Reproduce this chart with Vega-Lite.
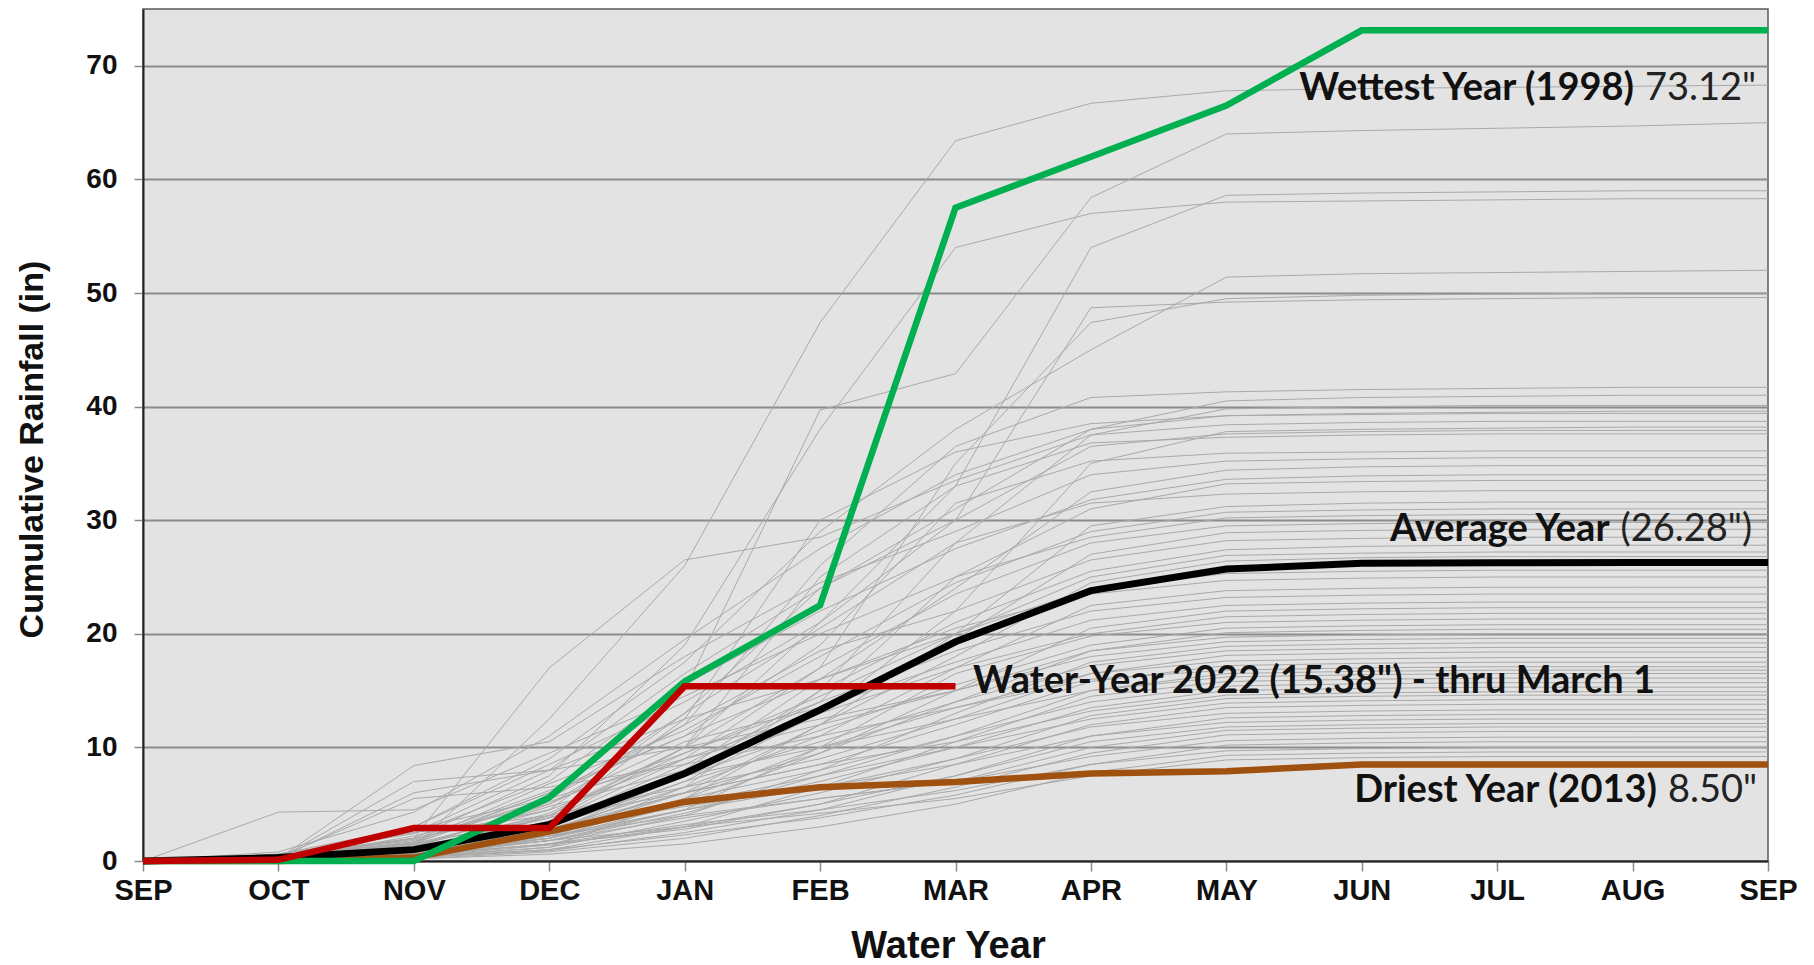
{
"$schema":"https://vega.github.io/schema/vega-lite/v6.json",
"width":1625,"height":852,"autosize":"none",
"padding":{"left":143,"top":9,"right":46,"bottom":104},
"background":"white",
"config":{"view":{"fill":"#e3e3e3","stroke":"#5a5a5a","strokeWidth":1.5}},
"datasets":{
"gray":[
{"s":"g01","m":0,"v":0},{"s":"g01","m":1,"v":0.3},{"s":"g01","m":2,"v":1.2},{"s":"g01","m":3,"v":12.5},{"s":"g01","m":4,"v":26.0},{"s":"g01","m":5,"v":47.4},{"s":"g01","m":6,"v":63.4},{"s":"g01","m":7,"v":66.7},{"s":"g01","m":8,"v":67.8},{"s":"g01","m":9,"v":68.0},{"s":"g01","m":10,"v":68.1},{"s":"g01","m":11,"v":68.2},{"s":"g01","m":12,"v":68.3},
{"s":"g02","m":0,"v":0},{"s":"g02","m":1,"v":0.3},{"s":"g02","m":2,"v":1.5},{"s":"g02","m":3,"v":6.0},{"s":"g02","m":4,"v":15.0},{"s":"g02","m":5,"v":39.7},{"s":"g02","m":6,"v":42.9},{"s":"g02","m":7,"v":58.4},{"s":"g02","m":8,"v":64.0},{"s":"g02","m":9,"v":64.3},{"s":"g02","m":10,"v":64.5},{"s":"g02","m":11,"v":64.7},{"s":"g02","m":12,"v":65.0},
{"s":"g03","m":0,"v":0},{"s":"g03","m":1,"v":0.2},{"s":"g03","m":2,"v":2.0},{"s":"g03","m":3,"v":7.5},{"s":"g03","m":4,"v":19.0},{"s":"g03","m":5,"v":38.0},{"s":"g03","m":6,"v":54.0},{"s":"g03","m":7,"v":57.0},{"s":"g03","m":8,"v":58.0},{"s":"g03","m":9,"v":58.1},{"s":"g03","m":10,"v":58.2},{"s":"g03","m":11,"v":58.3},{"s":"g03","m":12,"v":58.3},
{"s":"g04","m":0,"v":0},{"s":"g04","m":1,"v":0.1},{"s":"g04","m":2,"v":1.0},{"s":"g04","m":3,"v":4.2},{"s":"g04","m":4,"v":10.0},{"s":"g04","m":5,"v":21.0},{"s":"g04","m":6,"v":33.0},{"s":"g04","m":7,"v":54.0},{"s":"g04","m":8,"v":58.6},{"s":"g04","m":9,"v":58.8},{"s":"g04","m":10,"v":58.9},{"s":"g04","m":11,"v":59.0},{"s":"g04","m":12,"v":59.0},
{"s":"g05","m":0,"v":0},{"s":"g05","m":1,"v":0.4},{"s":"g05","m":2,"v":1.8},{"s":"g05","m":3,"v":5.5},{"s":"g05","m":4,"v":13.0},{"s":"g05","m":5,"v":24.0},{"s":"g05","m":6,"v":30.0},{"s":"g05","m":7,"v":48.7},{"s":"g05","m":8,"v":49.2},{"s":"g05","m":9,"v":49.4},{"s":"g05","m":10,"v":49.5},{"s":"g05","m":11,"v":49.6},{"s":"g05","m":12,"v":49.6},
{"s":"g06","m":0,"v":0},{"s":"g06","m":1,"v":0.2},{"s":"g06","m":2,"v":0.8},{"s":"g06","m":3,"v":3.5},{"s":"g06","m":4,"v":9.0},{"s":"g06","m":5,"v":17.0},{"s":"g06","m":6,"v":35.0},{"s":"g06","m":7,"v":47.4},{"s":"g06","m":8,"v":49.5},{"s":"g06","m":9,"v":49.8},{"s":"g06","m":10,"v":49.9},{"s":"g06","m":11,"v":50.0},{"s":"g06","m":12,"v":50.0},
{"s":"g07","m":0,"v":0},{"s":"g07","m":1,"v":0.6},{"s":"g07","m":2,"v":3.0},{"s":"g07","m":3,"v":9.0},{"s":"g07","m":4,"v":17.5},{"s":"g07","m":5,"v":29.0},{"s":"g07","m":6,"v":38.0},{"s":"g07","m":7,"v":45.0},{"s":"g07","m":8,"v":51.4},{"s":"g07","m":9,"v":51.7},{"s":"g07","m":10,"v":51.8},{"s":"g07","m":11,"v":51.9},{"s":"g07","m":12,"v":52.0},
{"s":"g08","m":0,"v":0},{"s":"g08","m":1,"v":0.3},{"s":"g08","m":2,"v":1.2},{"s":"g08","m":3,"v":5.0},{"s":"g08","m":4,"v":12.0},{"s":"g08","m":5,"v":26.0},{"s":"g08","m":6,"v":36.5},{"s":"g08","m":7,"v":40.8},{"s":"g08","m":8,"v":41.3},{"s":"g08","m":9,"v":41.5},{"s":"g08","m":10,"v":41.6},{"s":"g08","m":11,"v":41.7},{"s":"g08","m":12,"v":41.7},
{"s":"g09","m":0,"v":0},{"s":"g09","m":1,"v":0.2},{"s":"g09","m":2,"v":2.5},{"s":"g09","m":3,"v":8.0},{"s":"g09","m":4,"v":16.5},{"s":"g09","m":5,"v":24.0},{"s":"g09","m":6,"v":31.0},{"s":"g09","m":7,"v":38.0},{"s":"g09","m":8,"v":40.5},{"s":"g09","m":9,"v":40.8},{"s":"g09","m":10,"v":40.9},{"s":"g09","m":11,"v":41.0},{"s":"g09","m":12,"v":41.0},
{"s":"g10","m":0,"v":0},{"s":"g10","m":1,"v":0.1},{"s":"g10","m":2,"v":0.5},{"s":"g10","m":3,"v":2.0},{"s":"g10","m":4,"v":6.5},{"s":"g10","m":5,"v":15.0},{"s":"g10","m":6,"v":28.0},{"s":"g10","m":7,"v":37.5},{"s":"g10","m":8,"v":39.8},{"s":"g10","m":9,"v":40.0},{"s":"g10","m":10,"v":40.1},{"s":"g10","m":11,"v":40.1},{"s":"g10","m":12,"v":40.1},
{"s":"g11","m":0,"v":0},{"s":"g11","m":1,"v":0.8},{"s":"g11","m":2,"v":4.3},{"s":"g11","m":3,"v":11.0},{"s":"g11","m":4,"v":19.5},{"s":"g11","m":5,"v":27.5},{"s":"g11","m":6,"v":34.0},{"s":"g11","m":7,"v":38.0},{"s":"g11","m":8,"v":39.2},{"s":"g11","m":9,"v":39.4},{"s":"g11","m":10,"v":39.5},{"s":"g11","m":11,"v":39.6},{"s":"g11","m":12,"v":39.6},
{"s":"g12","m":0,"v":0},{"s":"g12","m":1,"v":0.3},{"s":"g12","m":2,"v":1.0},{"s":"g12","m":3,"v":3.8},{"s":"g12","m":4,"v":12.5},{"s":"g12","m":5,"v":30.0},{"s":"g12","m":6,"v":36.0},{"s":"g12","m":7,"v":38.5},{"s":"g12","m":8,"v":39.2},{"s":"g12","m":9,"v":39.3},{"s":"g12","m":10,"v":39.4},{"s":"g12","m":11,"v":39.4},{"s":"g12","m":12,"v":39.4},
{"s":"g13","m":0,"v":0},{"s":"g13","m":1,"v":0.5},{"s":"g13","m":2,"v":2.0},{"s":"g13","m":3,"v":17.0},{"s":"g13","m":4,"v":26.5},{"s":"g13","m":5,"v":28.5},{"s":"g13","m":6,"v":33.5},{"s":"g13","m":7,"v":37.5},{"s":"g13","m":8,"v":38.4},{"s":"g13","m":9,"v":38.6},{"s":"g13","m":10,"v":38.7},{"s":"g13","m":11,"v":38.7},{"s":"g13","m":12,"v":38.7},
{"s":"g14","m":0,"v":0},{"s":"g14","m":1,"v":0.1},{"s":"g14","m":2,"v":0.8},{"s":"g14","m":3,"v":2.5},{"s":"g14","m":4,"v":7.0},{"s":"g14","m":5,"v":13.0},{"s":"g14","m":6,"v":22.0},{"s":"g14","m":7,"v":35.0},{"s":"g14","m":8,"v":37.8},{"s":"g14","m":9,"v":38.0},{"s":"g14","m":10,"v":38.1},{"s":"g14","m":11,"v":38.2},{"s":"g14","m":12,"v":38.2},
{"s":"g15","m":0,"v":0},{"s":"g15","m":1,"v":0.4},{"s":"g15","m":2,"v":3.0},{"s":"g15","m":3,"v":8.5},{"s":"g15","m":4,"v":14.0},{"s":"g15","m":5,"v":21.0},{"s":"g15","m":6,"v":30.0},{"s":"g15","m":7,"v":36.5},{"s":"g15","m":8,"v":37.6},{"s":"g15","m":9,"v":37.8},{"s":"g15","m":10,"v":37.9},{"s":"g15","m":11,"v":37.9},{"s":"g15","m":12,"v":37.9},
{"s":"g16","m":0,"v":0},{"s":"g16","m":1,"v":0.1},{"s":"g16","m":2,"v":0.6},{"s":"g16","m":3,"v":4.0},{"s":"g16","m":4,"v":10.0},{"s":"g16","m":5,"v":25.0},{"s":"g16","m":6,"v":33.0},{"s":"g16","m":7,"v":36.8},{"s":"g16","m":8,"v":37.3},{"s":"g16","m":9,"v":37.5},{"s":"g16","m":10,"v":37.6},{"s":"g16","m":11,"v":37.6},{"s":"g16","m":12,"v":37.6},
{"s":"g17","m":0,"v":0},{"s":"g17","m":1,"v":0.3},{"s":"g17","m":2,"v":1.7},{"s":"g17","m":3,"v":6.0},{"s":"g17","m":4,"v":11.0},{"s":"g17","m":5,"v":19.0},{"s":"g17","m":6,"v":31.5},{"s":"g17","m":7,"v":35.2},{"s":"g17","m":8,"v":35.9},{"s":"g17","m":9,"v":36.0},{"s":"g17","m":10,"v":36.1},{"s":"g17","m":11,"v":36.1},{"s":"g17","m":12,"v":36.1},
{"s":"g18","m":0,"v":0},{"s":"g18","m":1,"v":0.2},{"s":"g18","m":2,"v":8.4},{"s":"g18","m":3,"v":10.5},{"s":"g18","m":4,"v":18.0},{"s":"g18","m":5,"v":24.5},{"s":"g18","m":6,"v":29.0},{"s":"g18","m":7,"v":34.0},{"s":"g18","m":8,"v":35.2},{"s":"g18","m":9,"v":35.4},{"s":"g18","m":10,"v":35.5},{"s":"g18","m":11,"v":35.5},{"s":"g18","m":12,"v":35.5},
{"s":"g19","m":0,"v":0},{"s":"g19","m":1,"v":0.1},{"s":"g19","m":2,"v":0.9},{"s":"g19","m":3,"v":3.0},{"s":"g19","m":4,"v":8.0},{"s":"g19","m":5,"v":16.0},{"s":"g19","m":6,"v":24.0},{"s":"g19","m":7,"v":32.5},{"s":"g19","m":8,"v":34.4},{"s":"g19","m":9,"v":34.7},{"s":"g19","m":10,"v":34.8},{"s":"g19","m":11,"v":34.8},{"s":"g19","m":12,"v":34.8},
{"s":"g20","m":0,"v":0},{"s":"g20","m":1,"v":0.6},{"s":"g20","m":2,"v":2.4},{"s":"g20","m":3,"v":7.0},{"s":"g20","m":4,"v":15.5},{"s":"g20","m":5,"v":22.0},{"s":"g20","m":6,"v":27.5},{"s":"g20","m":7,"v":31.8},{"s":"g20","m":8,"v":33.6},{"s":"g20","m":9,"v":33.9},{"s":"g20","m":10,"v":34.0},{"s":"g20","m":11,"v":34.0},{"s":"g20","m":12,"v":34.0},
{"s":"g21","m":0,"v":0},{"s":"g21","m":1,"v":0.2},{"s":"g21","m":2,"v":1.1},{"s":"g21","m":3,"v":5.2},{"s":"g21","m":4,"v":9.5},{"s":"g21","m":5,"v":14.0},{"s":"g21","m":6,"v":25.0},{"s":"g21","m":7,"v":31.0},{"s":"g21","m":8,"v":33.2},{"s":"g21","m":9,"v":33.4},{"s":"g21","m":10,"v":33.5},{"s":"g21","m":11,"v":33.5},{"s":"g21","m":12,"v":33.5},
{"s":"g22","m":0,"v":0},{"s":"g22","m":1,"v":0.3},{"s":"g22","m":2,"v":2.0},{"s":"g22","m":3,"v":4.5},{"s":"g22","m":4,"v":13.0},{"s":"g22","m":5,"v":20.5},{"s":"g22","m":6,"v":28.0},{"s":"g22","m":7,"v":31.5},{"s":"g22","m":8,"v":32.3},{"s":"g22","m":9,"v":32.5},{"s":"g22","m":10,"v":32.6},{"s":"g22","m":11,"v":32.6},{"s":"g22","m":12,"v":32.6},
{"s":"g23","m":0,"v":0},{"s":"g23","m":1,"v":0.1},{"s":"g23","m":2,"v":0.4},{"s":"g23","m":3,"v":2.2},{"s":"g23","m":4,"v":6.0},{"s":"g23","m":5,"v":12.0},{"s":"g23","m":6,"v":20.0},{"s":"g23","m":7,"v":29.5},{"s":"g23","m":8,"v":31.2},{"s":"g23","m":9,"v":31.5},{"s":"g23","m":10,"v":31.6},{"s":"g23","m":11,"v":31.6},{"s":"g23","m":12,"v":31.6},
{"s":"g24","m":0,"v":0},{"s":"g24","m":1,"v":0.5},{"s":"g24","m":2,"v":1.6},{"s":"g24","m":3,"v":6.8},{"s":"g24","m":4,"v":11.5},{"s":"g24","m":5,"v":18.0},{"s":"g24","m":6,"v":24.5},{"s":"g24","m":7,"v":29.0},{"s":"g24","m":8,"v":30.7},{"s":"g24","m":9,"v":30.9},{"s":"g24","m":10,"v":31.0},{"s":"g24","m":11,"v":31.0},{"s":"g24","m":12,"v":31.0},
{"s":"g25","m":0,"v":0},{"s":"g25","m":1,"v":4.3},{"s":"g25","m":2,"v":4.5},{"s":"g25","m":3,"v":9.5},{"s":"g25","m":4,"v":14.5},{"s":"g25","m":5,"v":20.0},{"s":"g25","m":6,"v":25.0},{"s":"g25","m":7,"v":28.5},{"s":"g25","m":8,"v":30.2},{"s":"g25","m":9,"v":30.4},{"s":"g25","m":10,"v":30.5},{"s":"g25","m":11,"v":30.5},{"s":"g25","m":12,"v":30.5},
{"s":"g26","m":0,"v":0},{"s":"g26","m":1,"v":0.2},{"s":"g26","m":2,"v":0.9},{"s":"g26","m":3,"v":3.5},{"s":"g26","m":4,"v":10.0},{"s":"g26","m":5,"v":17.0},{"s":"g26","m":6,"v":23.5},{"s":"g26","m":7,"v":28.0},{"s":"g26","m":8,"v":29.5},{"s":"g26","m":9,"v":29.7},{"s":"g26","m":10,"v":29.8},{"s":"g26","m":11,"v":29.8},{"s":"g26","m":12,"v":29.8},
{"s":"g27","m":0,"v":0},{"s":"g27","m":1,"v":0.3},{"s":"g27","m":2,"v":1.3},{"s":"g27","m":3,"v":4.8},{"s":"g27","m":4,"v":8.0},{"s":"g27","m":5,"v":13.5},{"s":"g27","m":6,"v":19.5},{"s":"g27","m":7,"v":27.0},{"s":"g27","m":8,"v":28.9},{"s":"g27","m":9,"v":29.1},{"s":"g27","m":10,"v":29.2},{"s":"g27","m":11,"v":29.2},{"s":"g27","m":12,"v":29.2},
{"s":"g28","m":0,"v":0},{"s":"g28","m":1,"v":0.1},{"s":"g28","m":2,"v":2.8},{"s":"g28","m":3,"v":5.5},{"s":"g28","m":4,"v":12.0},{"s":"g28","m":5,"v":18.5},{"s":"g28","m":6,"v":22.0},{"s":"g28","m":7,"v":26.5},{"s":"g28","m":8,"v":28.2},{"s":"g28","m":9,"v":28.4},{"s":"g28","m":10,"v":28.5},{"s":"g28","m":11,"v":28.5},{"s":"g28","m":12,"v":28.5},
{"s":"g29","m":0,"v":0},{"s":"g29","m":1,"v":0.2},{"s":"g29","m":2,"v":0.7},{"s":"g29","m":3,"v":2.5},{"s":"g29","m":4,"v":7.5},{"s":"g29","m":5,"v":15.0},{"s":"g29","m":6,"v":21.0},{"s":"g29","m":7,"v":25.5},{"s":"g29","m":8,"v":27.4},{"s":"g29","m":9,"v":27.7},{"s":"g29","m":10,"v":27.8},{"s":"g29","m":11,"v":27.8},{"s":"g29","m":12,"v":27.8},
{"s":"g30","m":0,"v":0},{"s":"g30","m":1,"v":0.4},{"s":"g30","m":2,"v":1.9},{"s":"g30","m":3,"v":6.2},{"s":"g30","m":4,"v":11.0},{"s":"g30","m":5,"v":16.0},{"s":"g30","m":6,"v":20.0},{"s":"g30","m":7,"v":25.0},{"s":"g30","m":8,"v":26.9},{"s":"g30","m":9,"v":27.1},{"s":"g30","m":10,"v":27.2},{"s":"g30","m":11,"v":27.2},{"s":"g30","m":12,"v":27.2},
{"s":"g31","m":0,"v":0},{"s":"g31","m":1,"v":0.1},{"s":"g31","m":2,"v":0.5},{"s":"g31","m":3,"v":2.0},{"s":"g31","m":4,"v":5.5},{"s":"g31","m":5,"v":12.0},{"s":"g31","m":6,"v":18.0},{"s":"g31","m":7,"v":24.5},{"s":"g31","m":8,"v":26.4},{"s":"g31","m":9,"v":26.7},{"s":"g31","m":10,"v":26.8},{"s":"g31","m":11,"v":26.8},{"s":"g31","m":12,"v":26.8},
{"s":"g32","m":0,"v":0},{"s":"g32","m":1,"v":0.3},{"s":"g32","m":2,"v":1.4},{"s":"g32","m":3,"v":4.0},{"s":"g32","m":4,"v":9.5},{"s":"g32","m":5,"v":14.5},{"s":"g32","m":6,"v":20.0},{"s":"g32","m":7,"v":24.0},{"s":"g32","m":8,"v":25.3},{"s":"g32","m":9,"v":25.5},{"s":"g32","m":10,"v":25.6},{"s":"g32","m":11,"v":25.6},{"s":"g32","m":12,"v":25.6},
{"s":"g33","m":0,"v":0},{"s":"g33","m":1,"v":0.2},{"s":"g33","m":2,"v":6.0},{"s":"g33","m":3,"v":8.0},{"s":"g33","m":4,"v":12.5},{"s":"g33","m":5,"v":16.0},{"s":"g33","m":6,"v":20.5},{"s":"g33","m":7,"v":23.5},{"s":"g33","m":8,"v":24.7},{"s":"g33","m":9,"v":24.9},{"s":"g33","m":10,"v":25.0},{"s":"g33","m":11,"v":25.0},{"s":"g33","m":12,"v":25.0},
{"s":"g34","m":0,"v":0},{"s":"g34","m":1,"v":0.1},{"s":"g34","m":2,"v":0.6},{"s":"g34","m":3,"v":2.8},{"s":"g34","m":4,"v":6.5},{"s":"g34","m":5,"v":11.0},{"s":"g34","m":6,"v":17.0},{"s":"g34","m":7,"v":22.5},{"s":"g34","m":8,"v":23.8},{"s":"g34","m":9,"v":24.0},{"s":"g34","m":10,"v":24.1},{"s":"g34","m":11,"v":24.1},{"s":"g34","m":12,"v":24.1},
{"s":"g35","m":0,"v":0},{"s":"g35","m":1,"v":0.3},{"s":"g35","m":2,"v":1.0},{"s":"g35","m":3,"v":3.2},{"s":"g35","m":4,"v":8.5},{"s":"g35","m":5,"v":14.0},{"s":"g35","m":6,"v":18.5},{"s":"g35","m":7,"v":22.0},{"s":"g35","m":8,"v":23.2},{"s":"g35","m":9,"v":23.4},{"s":"g35","m":10,"v":23.5},{"s":"g35","m":11,"v":23.5},{"s":"g35","m":12,"v":23.5},
{"s":"g36","m":0,"v":0},{"s":"g36","m":1,"v":0.1},{"s":"g36","m":2,"v":2.2},{"s":"g36","m":3,"v":5.0},{"s":"g36","m":4,"v":10.5},{"s":"g36","m":5,"v":13.5},{"s":"g36","m":6,"v":17.5},{"s":"g36","m":7,"v":21.2},{"s":"g36","m":8,"v":22.5},{"s":"g36","m":9,"v":22.7},{"s":"g36","m":10,"v":22.8},{"s":"g36","m":11,"v":22.8},{"s":"g36","m":12,"v":22.8},
{"s":"g37","m":0,"v":0},{"s":"g37","m":1,"v":0.2},{"s":"g37","m":2,"v":0.8},{"s":"g37","m":3,"v":2.0},{"s":"g37","m":4,"v":5.0},{"s":"g37","m":5,"v":9.5},{"s":"g37","m":6,"v":15.0},{"s":"g37","m":7,"v":20.5},{"s":"g37","m":8,"v":22.0},{"s":"g37","m":9,"v":22.2},{"s":"g37","m":10,"v":22.3},{"s":"g37","m":11,"v":22.3},{"s":"g37","m":12,"v":22.3},
{"s":"g38","m":0,"v":0},{"s":"g38","m":1,"v":0.5},{"s":"g38","m":2,"v":1.5},{"s":"g38","m":3,"v":4.5},{"s":"g38","m":4,"v":9.0},{"s":"g38","m":5,"v":13.0},{"s":"g38","m":6,"v":17.0},{"s":"g38","m":7,"v":20.0},{"s":"g38","m":8,"v":21.5},{"s":"g38","m":9,"v":21.7},{"s":"g38","m":10,"v":21.8},{"s":"g38","m":11,"v":21.8},{"s":"g38","m":12,"v":21.8},
{"s":"g39","m":0,"v":0},{"s":"g39","m":1,"v":0.1},{"s":"g39","m":2,"v":0.4},{"s":"g39","m":3,"v":1.8},{"s":"g39","m":4,"v":4.5},{"s":"g39","m":5,"v":10.0},{"s":"g39","m":6,"v":16.5},{"s":"g39","m":7,"v":19.8},{"s":"g39","m":8,"v":21.0},{"s":"g39","m":9,"v":21.2},{"s":"g39","m":10,"v":21.3},{"s":"g39","m":11,"v":21.3},{"s":"g39","m":12,"v":21.3},
{"s":"g40","m":0,"v":0},{"s":"g40","m":1,"v":0.3},{"s":"g40","m":2,"v":1.2},{"s":"g40","m":3,"v":3.8},{"s":"g40","m":4,"v":7.5},{"s":"g40","m":5,"v":11.5},{"s":"g40","m":6,"v":15.5},{"s":"g40","m":7,"v":19.0},{"s":"g40","m":8,"v":20.5},{"s":"g40","m":9,"v":20.7},{"s":"g40","m":10,"v":20.8},{"s":"g40","m":11,"v":20.8},{"s":"g40","m":12,"v":20.8},
{"s":"g41","m":0,"v":0},{"s":"g41","m":1,"v":0.2},{"s":"g41","m":2,"v":7.0},{"s":"g41","m":3,"v":8.0},{"s":"g41","m":4,"v":10.0},{"s":"g41","m":5,"v":12.5},{"s":"g41","m":6,"v":15.0},{"s":"g41","m":7,"v":18.5},{"s":"g41","m":8,"v":20.1},{"s":"g41","m":9,"v":20.3},{"s":"g41","m":10,"v":20.4},{"s":"g41","m":11,"v":20.4},{"s":"g41","m":12,"v":20.4},
{"s":"g42","m":0,"v":0},{"s":"g42","m":1,"v":0.1},{"s":"g42","m":2,"v":0.9},{"s":"g42","m":3,"v":2.6},{"s":"g42","m":4,"v":6.0},{"s":"g42","m":5,"v":9.5},{"s":"g42","m":6,"v":14.0},{"s":"g42","m":7,"v":18.5},{"s":"g42","m":8,"v":19.7},{"s":"g42","m":9,"v":19.9},{"s":"g42","m":10,"v":20.0},{"s":"g42","m":11,"v":20.0},{"s":"g42","m":12,"v":20.0},
{"s":"g43","m":0,"v":0},{"s":"g43","m":1,"v":0.4},{"s":"g43","m":2,"v":1.6},{"s":"g43","m":3,"v":5.5},{"s":"g43","m":4,"v":9.0},{"s":"g43","m":5,"v":12.0},{"s":"g43","m":6,"v":15.0},{"s":"g43","m":7,"v":18.0},{"s":"g43","m":8,"v":19.3},{"s":"g43","m":9,"v":19.5},{"s":"g43","m":10,"v":19.6},{"s":"g43","m":11,"v":19.6},{"s":"g43","m":12,"v":19.6},
{"s":"g44","m":0,"v":0},{"s":"g44","m":1,"v":0.1},{"s":"g44","m":2,"v":0.5},{"s":"g44","m":3,"v":1.5},{"s":"g44","m":4,"v":4.0},{"s":"g44","m":5,"v":8.0},{"s":"g44","m":6,"v":13.0},{"s":"g44","m":7,"v":17.5},{"s":"g44","m":8,"v":18.9},{"s":"g44","m":9,"v":19.1},{"s":"g44","m":10,"v":19.2},{"s":"g44","m":11,"v":19.2},{"s":"g44","m":12,"v":19.2},
{"s":"g45","m":0,"v":0},{"s":"g45","m":1,"v":0.2},{"s":"g45","m":2,"v":1.1},{"s":"g45","m":3,"v":3.0},{"s":"g45","m":4,"v":7.0},{"s":"g45","m":5,"v":10.5},{"s":"g45","m":6,"v":14.0},{"s":"g45","m":7,"v":17.2},{"s":"g45","m":8,"v":18.5},{"s":"g45","m":9,"v":18.7},{"s":"g45","m":10,"v":18.8},{"s":"g45","m":11,"v":18.8},{"s":"g45","m":12,"v":18.8},
{"s":"g46","m":0,"v":0},{"s":"g46","m":1,"v":0.6},{"s":"g46","m":2,"v":2.5},{"s":"g46","m":3,"v":4.0},{"s":"g46","m":4,"v":6.5},{"s":"g46","m":5,"v":9.0},{"s":"g46","m":6,"v":12.5},{"s":"g46","m":7,"v":16.5},{"s":"g46","m":8,"v":18.1},{"s":"g46","m":9,"v":18.3},{"s":"g46","m":10,"v":18.4},{"s":"g46","m":11,"v":18.4},{"s":"g46","m":12,"v":18.4},
{"s":"g47","m":0,"v":0},{"s":"g47","m":1,"v":0.1},{"s":"g47","m":2,"v":0.3},{"s":"g47","m":3,"v":1.2},{"s":"g47","m":4,"v":5.5},{"s":"g47","m":5,"v":10.0},{"s":"g47","m":6,"v":13.5},{"s":"g47","m":7,"v":16.5},{"s":"g47","m":8,"v":17.6},{"s":"g47","m":9,"v":17.8},{"s":"g47","m":10,"v":17.9},{"s":"g47","m":11,"v":17.9},{"s":"g47","m":12,"v":17.9},
{"s":"g48","m":0,"v":0},{"s":"g48","m":1,"v":0.2},{"s":"g48","m":2,"v":1.0},{"s":"g48","m":3,"v":2.8},{"s":"g48","m":4,"v":6.0},{"s":"g48","m":5,"v":8.5},{"s":"g48","m":6,"v":12.0},{"s":"g48","m":7,"v":15.8},{"s":"g48","m":8,"v":17.2},{"s":"g48","m":9,"v":17.4},{"s":"g48","m":10,"v":17.5},{"s":"g48","m":11,"v":17.5},{"s":"g48","m":12,"v":17.5},
{"s":"g49","m":0,"v":0},{"s":"g49","m":1,"v":0.3},{"s":"g49","m":2,"v":5.5},{"s":"g49","m":3,"v":6.5},{"s":"g49","m":4,"v":8.5},{"s":"g49","m":5,"v":11.0},{"s":"g49","m":6,"v":13.5},{"s":"g49","m":7,"v":16.0},{"s":"g49","m":8,"v":16.8},{"s":"g49","m":9,"v":17.0},{"s":"g49","m":10,"v":17.1},{"s":"g49","m":11,"v":17.1},{"s":"g49","m":12,"v":17.1},
{"s":"g50","m":0,"v":0},{"s":"g50","m":1,"v":0.1},{"s":"g50","m":2,"v":0.6},{"s":"g50","m":3,"v":1.8},{"s":"g50","m":4,"v":4.2},{"s":"g50","m":5,"v":7.5},{"s":"g50","m":6,"v":11.0},{"s":"g50","m":7,"v":15.0},{"s":"g50","m":8,"v":16.5},{"s":"g50","m":9,"v":16.7},{"s":"g50","m":10,"v":16.8},{"s":"g50","m":11,"v":16.8},{"s":"g50","m":12,"v":16.8},
{"s":"g51","m":0,"v":0},{"s":"g51","m":1,"v":0.2},{"s":"g51","m":2,"v":0.9},{"s":"g51","m":3,"v":3.5},{"s":"g51","m":4,"v":7.5},{"s":"g51","m":5,"v":10.0},{"s":"g51","m":6,"v":12.5},{"s":"g51","m":7,"v":15.0},{"s":"g51","m":8,"v":16.2},{"s":"g51","m":9,"v":16.4},{"s":"g51","m":10,"v":16.5},{"s":"g51","m":11,"v":16.5},{"s":"g51","m":12,"v":16.5},
{"s":"g52","m":0,"v":0},{"s":"g52","m":1,"v":0.1},{"s":"g52","m":2,"v":0.3},{"s":"g52","m":3,"v":1.0},{"s":"g52","m":4,"v":3.0},{"s":"g52","m":5,"v":6.5},{"s":"g52","m":6,"v":10.5},{"s":"g52","m":7,"v":14.5},{"s":"g52","m":8,"v":15.8},{"s":"g52","m":9,"v":16.0},{"s":"g52","m":10,"v":16.1},{"s":"g52","m":11,"v":16.1},{"s":"g52","m":12,"v":16.1},
{"s":"g53","m":0,"v":0},{"s":"g53","m":1,"v":0.4},{"s":"g53","m":2,"v":1.3},{"s":"g53","m":3,"v":2.5},{"s":"g53","m":4,"v":5.5},{"s":"g53","m":5,"v":8.0},{"s":"g53","m":6,"v":11.0},{"s":"g53","m":7,"v":14.0},{"s":"g53","m":8,"v":15.4},{"s":"g53","m":9,"v":15.6},{"s":"g53","m":10,"v":15.7},{"s":"g53","m":11,"v":15.7},{"s":"g53","m":12,"v":15.7},
{"s":"g54","m":0,"v":0},{"s":"g54","m":1,"v":0.1},{"s":"g54","m":2,"v":0.7},{"s":"g54","m":3,"v":2.2},{"s":"g54","m":4,"v":4.5},{"s":"g54","m":5,"v":7.0},{"s":"g54","m":6,"v":10.0},{"s":"g54","m":7,"v":13.5},{"s":"g54","m":8,"v":15.0},{"s":"g54","m":9,"v":15.2},{"s":"g54","m":10,"v":15.3},{"s":"g54","m":11,"v":15.3},{"s":"g54","m":12,"v":15.3},
{"s":"g55","m":0,"v":0},{"s":"g55","m":1,"v":0.2},{"s":"g55","m":2,"v":1.5},{"s":"g55","m":3,"v":3.8},{"s":"g55","m":4,"v":6.0},{"s":"g55","m":5,"v":8.5},{"s":"g55","m":6,"v":10.5},{"s":"g55","m":7,"v":13.2},{"s":"g55","m":8,"v":14.6},{"s":"g55","m":9,"v":14.8},{"s":"g55","m":10,"v":14.9},{"s":"g55","m":11,"v":14.9},{"s":"g55","m":12,"v":14.9},
{"s":"g56","m":0,"v":0},{"s":"g56","m":1,"v":0.1},{"s":"g56","m":2,"v":0.4},{"s":"g56","m":3,"v":1.2},{"s":"g56","m":4,"v":3.5},{"s":"g56","m":5,"v":6.0},{"s":"g56","m":6,"v":9.0},{"s":"g56","m":7,"v":12.8},{"s":"g56","m":8,"v":14.3},{"s":"g56","m":9,"v":14.5},{"s":"g56","m":10,"v":14.6},{"s":"g56","m":11,"v":14.6},{"s":"g56","m":12,"v":14.6},
{"s":"g57","m":0,"v":0},{"s":"g57","m":1,"v":0.3},{"s":"g57","m":2,"v":1.0},{"s":"g57","m":3,"v":2.6},{"s":"g57","m":4,"v":5.0},{"s":"g57","m":5,"v":7.5},{"s":"g57","m":6,"v":10.0},{"s":"g57","m":7,"v":12.5},{"s":"g57","m":8,"v":13.9},{"s":"g57","m":9,"v":14.1},{"s":"g57","m":10,"v":14.2},{"s":"g57","m":11,"v":14.2},{"s":"g57","m":12,"v":14.2},
{"s":"g58","m":0,"v":0},{"s":"g58","m":1,"v":0.1},{"s":"g58","m":2,"v":0.5},{"s":"g58","m":3,"v":1.5},{"s":"g58","m":4,"v":2.8},{"s":"g58","m":5,"v":5.0},{"s":"g58","m":6,"v":8.5},{"s":"g58","m":7,"v":12.0},{"s":"g58","m":8,"v":13.5},{"s":"g58","m":9,"v":13.7},{"s":"g58","m":10,"v":13.8},{"s":"g58","m":11,"v":13.8},{"s":"g58","m":12,"v":13.8},
{"s":"g59","m":0,"v":0},{"s":"g59","m":1,"v":0.2},{"s":"g59","m":2,"v":0.8},{"s":"g59","m":3,"v":2.0},{"s":"g59","m":4,"v":4.5},{"s":"g59","m":5,"v":6.5},{"s":"g59","m":6,"v":9.0},{"s":"g59","m":7,"v":11.8},{"s":"g59","m":8,"v":13.0},{"s":"g59","m":9,"v":13.2},{"s":"g59","m":10,"v":13.3},{"s":"g59","m":11,"v":13.3},{"s":"g59","m":12,"v":13.3},
{"s":"g60","m":0,"v":0},{"s":"g60","m":1,"v":0.1},{"s":"g60","m":2,"v":0.3},{"s":"g60","m":3,"v":0.9},{"s":"g60","m":4,"v":2.5},{"s":"g60","m":5,"v":4.5},{"s":"g60","m":6,"v":7.5},{"s":"g60","m":7,"v":11.0},{"s":"g60","m":8,"v":12.6},{"s":"g60","m":9,"v":12.8},{"s":"g60","m":10,"v":12.9},{"s":"g60","m":11,"v":12.9},{"s":"g60","m":12,"v":12.9},
{"s":"g61","m":0,"v":0},{"s":"g61","m":1,"v":0.3},{"s":"g61","m":2,"v":1.2},{"s":"g61","m":3,"v":2.8},{"s":"g61","m":4,"v":4.8},{"s":"g61","m":5,"v":6.5},{"s":"g61","m":6,"v":8.5},{"s":"g61","m":7,"v":11.0},{"s":"g61","m":8,"v":12.2},{"s":"g61","m":9,"v":12.4},{"s":"g61","m":10,"v":12.5},{"s":"g61","m":11,"v":12.5},{"s":"g61","m":12,"v":12.5},
{"s":"g62","m":0,"v":0},{"s":"g62","m":1,"v":0.1},{"s":"g62","m":2,"v":0.4},{"s":"g62","m":3,"v":1.4},{"s":"g62","m":4,"v":3.0},{"s":"g62","m":5,"v":5.0},{"s":"g62","m":6,"v":7.5},{"s":"g62","m":7,"v":10.5},{"s":"g62","m":8,"v":11.8},{"s":"g62","m":9,"v":12.0},{"s":"g62","m":10,"v":12.1},{"s":"g62","m":11,"v":12.1},{"s":"g62","m":12,"v":12.1},
{"s":"g63","m":0,"v":0},{"s":"g63","m":1,"v":0.2},{"s":"g63","m":2,"v":0.7},{"s":"g63","m":3,"v":1.8},{"s":"g63","m":4,"v":3.8},{"s":"g63","m":5,"v":5.5},{"s":"g63","m":6,"v":7.0},{"s":"g63","m":7,"v":10.0},{"s":"g63","m":8,"v":11.5},{"s":"g63","m":9,"v":11.7},{"s":"g63","m":10,"v":11.8},{"s":"g63","m":11,"v":11.8},{"s":"g63","m":12,"v":11.8},
{"s":"g64","m":0,"v":0},{"s":"g64","m":1,"v":0.1},{"s":"g64","m":2,"v":0.2},{"s":"g64","m":3,"v":0.8},{"s":"g64","m":4,"v":2.0},{"s":"g64","m":5,"v":4.0},{"s":"g64","m":6,"v":6.5},{"s":"g64","m":7,"v":9.5},{"s":"g64","m":8,"v":11.1},{"s":"g64","m":9,"v":11.3},{"s":"g64","m":10,"v":11.4},{"s":"g64","m":11,"v":11.4},{"s":"g64","m":12,"v":11.4},
{"s":"g65","m":0,"v":0},{"s":"g65","m":1,"v":0.2},{"s":"g65","m":2,"v":0.9},{"s":"g65","m":3,"v":2.2},{"s":"g65","m":4,"v":4.0},{"s":"g65","m":5,"v":5.5},{"s":"g65","m":6,"v":7.0},{"s":"g65","m":7,"v":9.2},{"s":"g65","m":8,"v":10.6},{"s":"g65","m":9,"v":10.8},{"s":"g65","m":10,"v":10.9},{"s":"g65","m":11,"v":10.9},{"s":"g65","m":12,"v":10.9},
{"s":"g66","m":0,"v":0},{"s":"g66","m":1,"v":0.1},{"s":"g66","m":2,"v":0.3},{"s":"g66","m":3,"v":1.0},{"s":"g66","m":4,"v":2.3},{"s":"g66","m":5,"v":3.8},{"s":"g66","m":6,"v":5.8},{"s":"g66","m":7,"v":8.5},{"s":"g66","m":8,"v":10.2},{"s":"g66","m":9,"v":10.4},{"s":"g66","m":10,"v":10.5},{"s":"g66","m":11,"v":10.5},{"s":"g66","m":12,"v":10.5},
{"s":"g67","m":0,"v":0},{"s":"g67","m":1,"v":0.1},{"s":"g67","m":2,"v":0.5},{"s":"g67","m":3,"v":1.5},{"s":"g67","m":4,"v":3.2},{"s":"g67","m":5,"v":4.5},{"s":"g67","m":6,"v":6.2},{"s":"g67","m":7,"v":8.5},{"s":"g67","m":8,"v":9.7},{"s":"g67","m":9,"v":9.9},{"s":"g67","m":10,"v":10.0},{"s":"g67","m":11,"v":10.0},{"s":"g67","m":12,"v":10.0},
{"s":"g68","m":0,"v":0},{"s":"g68","m":1,"v":0.1},{"s":"g68","m":2,"v":0.2},{"s":"g68","m":3,"v":0.6},{"s":"g68","m":4,"v":1.5},{"s":"g68","m":5,"v":3.0},{"s":"g68","m":6,"v":5.0},{"s":"g68","m":7,"v":7.8},{"s":"g68","m":8,"v":9.3},{"s":"g68","m":9,"v":9.5},{"s":"g68","m":10,"v":9.6},{"s":"g68","m":11,"v":9.6},{"s":"g68","m":12,"v":9.6},
{"s":"g69","m":0,"v":0},{"s":"g69","m":1,"v":0.2},{"s":"g69","m":2,"v":0.6},{"s":"g69","m":3,"v":1.8},{"s":"g69","m":4,"v":3.0},{"s":"g69","m":5,"v":4.2},{"s":"g69","m":6,"v":5.5},{"s":"g69","m":7,"v":7.5},{"s":"g69","m":8,"v":8.9},{"s":"g69","m":9,"v":9.1},{"s":"g69","m":10,"v":9.2},{"s":"g69","m":11,"v":9.2},{"s":"g69","m":12,"v":9.2}
],
"main":[
{"s":"Driest","m":0,"v":0},{"s":"Driest","m":1,"v":0},{"s":"Driest","m":2,"v":0.3},{"s":"Driest","m":3,"v":2.6},{"s":"Driest","m":4,"v":5.2},{"s":"Driest","m":5,"v":6.5},{"s":"Driest","m":6,"v":6.95},{"s":"Driest","m":7,"v":7.7},{"s":"Driest","m":8,"v":7.9},{"s":"Driest","m":9,"v":8.5},{"s":"Driest","m":10,"v":8.5},{"s":"Driest","m":11,"v":8.5},{"s":"Driest","m":12,"v":8.5},
{"s":"Average","m":0,"v":0},{"s":"Average","m":1,"v":0.3},{"s":"Average","m":2,"v":1.0},{"s":"Average","m":3,"v":3.2},{"s":"Average","m":4,"v":7.7},{"s":"Average","m":5,"v":13.3},{"s":"Average","m":6,"v":19.3},{"s":"Average","m":7,"v":23.8},{"s":"Average","m":8,"v":25.7},{"s":"Average","m":9,"v":26.2},{"s":"Average","m":10,"v":26.25},{"s":"Average","m":11,"v":26.28},{"s":"Average","m":12,"v":26.28},
{"s":"Wettest","m":0,"v":0},{"s":"Wettest","m":1,"v":0},{"s":"Wettest","m":2,"v":0},{"s":"Wettest","m":3,"v":5.6},{"s":"Wettest","m":4,"v":15.8},{"s":"Wettest","m":5,"v":22.5},{"s":"Wettest","m":6,"v":57.5},{"s":"Wettest","m":7,"v":62.0},{"s":"Wettest","m":8,"v":66.5},{"s":"Wettest","m":9,"v":73.12},{"s":"Wettest","m":10,"v":73.12},{"s":"Wettest","m":11,"v":73.12},{"s":"Wettest","m":12,"v":73.12},
{"s":"WY2022","m":0,"v":0},{"s":"WY2022","m":1,"v":0.1},{"s":"WY2022","m":2,"v":2.9},{"s":"WY2022","m":3,"v":2.9},{"s":"WY2022","m":4,"v":15.38},{"s":"WY2022","m":5,"v":15.38},{"s":"WY2022","m":6,"v":15.38}
],
"boldR":[
{"t":"Wettest Year (1998)","m":11.01,"v":67.0},
{"t":"Average Year","m":10.83,"v":28.2},
{"t":"Driest Year (2013)","m":11.18,"v":5.2}
],
"boldL":[
{"t":"Water-Year 2022 (15.38\") - thru March 1","m":6.13,"v":14.8}
],
"vals":[
{"t":"73.12\"","m":11.01,"v":67.0},
{"t":"(26.28\")","m":10.83,"v":28.2},
{"t":"8.50\"","m":11.18,"v":5.2}
]
},
"layer":[
{"data":{"name":"gray"},
 "mark":{"type":"line","color":"#a9a9a9","strokeWidth":1},
 "encoding":{
  "x":{"field":"m","type":"quantitative","scale":{"domain":[0,12],"nice":false,"zero":false},
   "axis":{"title":"Water Year","values":[0,1,2,3,4,5,6,7,8,9,10,11,12],
    "labelExpr":"['SEP','OCT','NOV','DEC','JAN','FEB','MAR','APR','MAY','JUN','JUL','AUG','SEP'][datum.value]",
    "grid":false,"domainColor":"#222","domainWidth":2,"tickColor":"#8a8a8a","tickSize":10,"tickWidth":1.5,
    "labelFont":"Liberation Sans","labelFontWeight":"bold","labelFontSize":29,"labelColor":"#111","labelPadding":5,"labelFlush":false,"labelOverlap":false,
    "titleFont":"Liberation Sans","titleFontWeight":"bold","titleFontSize":38,"titleColor":"#111","titlePadding":22,"titleX":805}},
  "y":{"field":"v","type":"quantitative","scale":{"domain":[0,75],"nice":false},
   "axis":{"title":"Cumulative Rainfall (in)","values":[0,10,20,30,40,50,60,70],
    "grid":true,"gridColor":"#8c8c8c","gridWidth":2,"domainColor":"#222","domainWidth":2,"tickColor":"#8a8a8a","tickSize":9,"tickWidth":1.5,
    "labelFont":"Liberation Sans","labelFontWeight":"bold","labelFontSize":28,"labelColor":"#111","labelPadding":17,
    "titleFont":"Liberation Sans","titleFontWeight":"bold","titleFontSize":34,"titleColor":"#111","titlePadding":36,"titleY":440}},
  "detail":{"field":"s"}}},
{"data":{"name":"main"},"transform":[{"filter":"datum.s==='Driest'"}],
 "mark":{"type":"line","color":"#a0500f","strokeWidth":6.5},
 "encoding":{"x":{"field":"m","type":"quantitative"},"y":{"field":"v","type":"quantitative"}}},
{"data":{"name":"main"},"transform":[{"filter":"datum.s==='Average'"}],
 "mark":{"type":"line","color":"#000000","strokeWidth":7},
 "encoding":{"x":{"field":"m","type":"quantitative"},"y":{"field":"v","type":"quantitative"}}},
{"data":{"name":"main"},"transform":[{"filter":"datum.s==='Wettest'"}],
 "mark":{"type":"line","color":"#00b050","strokeWidth":6.5},
 "encoding":{"x":{"field":"m","type":"quantitative"},"y":{"field":"v","type":"quantitative"}}},
{"data":{"name":"main"},"transform":[{"filter":"datum.s==='WY2022'"}],
 "mark":{"type":"line","color":"#c00000","strokeWidth":6.5},
 "encoding":{"x":{"field":"m","type":"quantitative"},"y":{"field":"v","type":"quantitative"}}},
{"data":{"name":"boldR"},
 "mark":{"type":"text","align":"right","baseline":"alphabetic","font":"Lato","fontWeight":"bold","fontSize":38,"color":"#111"},
 "encoding":{"x":{"field":"m","type":"quantitative"},"y":{"field":"v","type":"quantitative"},"text":{"field":"t"}}},
{"data":{"name":"boldL"},
 "mark":{"type":"text","align":"left","baseline":"alphabetic","font":"Lato","fontWeight":"bold","fontSize":38,"color":"#111"},
 "encoding":{"x":{"field":"m","type":"quantitative"},"y":{"field":"v","type":"quantitative"},"text":{"field":"t"}}},
{"data":{"name":"vals"},
 "mark":{"type":"text","align":"left","baseline":"alphabetic","dx":11,"font":"Lato","fontWeight":"normal","fontSize":38,"color":"#222"},
 "encoding":{"x":{"field":"m","type":"quantitative"},"y":{"field":"v","type":"quantitative"},"text":{"field":"t"}}}
]
}
